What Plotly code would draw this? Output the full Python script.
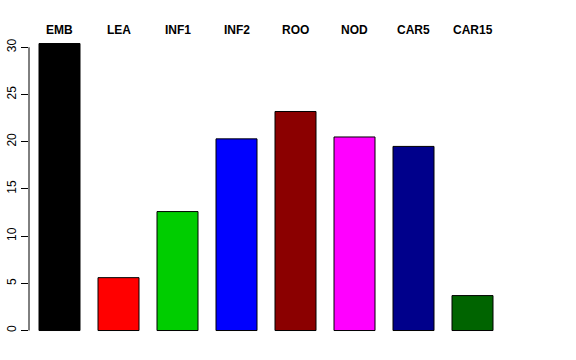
import plotly.graph_objects as go

categories = ["EMB", "LEA", "INF1", "INF2", "ROO", "NOD", "CAR5", "CAR15"]
values = [30.4, 5.6, 12.6, 20.3, 23.2, 20.5, 19.5, 3.7]
colors = ["#000000", "#FF0000", "#00CD00", "#0000FF", "#8B0000", "#FF00FF", "#00008B", "#006400"]
y_ticks = [0, 5, 10, 15, 20, 25, 30]

fig = go.Figure()
fig.add_trace(go.Bar(
    x=list(range(len(categories))), y=values,
    marker=dict(color=colors, line=dict(color="#000000", width=1)),
    width=0.695, hoverinfo="skip",
))

for i, c in enumerate(categories):
    fig.add_annotation(x=i, y=1, xref="x", yref="paper", text="<b>%s</b>" % c,
                       showarrow=False, yanchor="bottom", yshift=-7,
                       font=dict(family="Liberation Sans, Arial", size=12, color="#000000"))

# R-style axis line spanning only the tick range
fig.add_shape(type="line", xref="paper", x0=0, x1=0, yref="y", y0=y_ticks[0], y1=y_ticks[-1],
              line=dict(color="#000000", width=1))

fig.update_layout(
    width=576, height=360,
    margin=dict(l=29, r=73, t=32, b=17.5, pad=0, autoexpand=False),
    paper_bgcolor="white", plot_bgcolor="white",
    showlegend=False,
    font=dict(family="Liberation Sans, Arial", size=12, color="#000000"),
    xaxis=dict(range=[-0.517, 7.517], showticklabels=False, showgrid=False, zeroline=False,
               showline=False, ticks="", automargin=False),
    yaxis=dict(range=[-1.216, 31.62], tickvals=y_ticks, ticktext=[str(v) for v in y_ticks],
               tickangle=-90, ticks="outside", ticklen=7, tickcolor="#000000", tickwidth=1,
               showgrid=False, zeroline=False, showline=False, automargin=False,
               tickfont=dict(family="Liberation Sans, Arial", size=12, color="#000000")),
)

# remove the default 8px page margin so the 576x360 figure fills the window
fig.write_html("out.html", config={"displayModeBar": False},
               post_script="document.body.style.margin='0';document.body.style.overflow='hidden';")
